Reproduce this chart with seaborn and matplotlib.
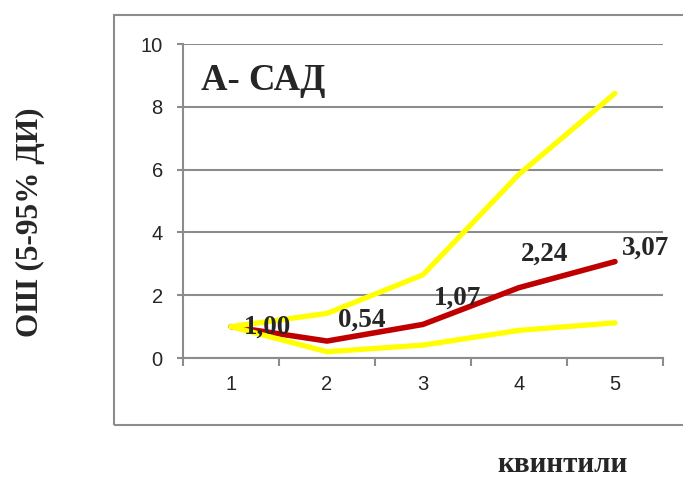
import matplotlib
matplotlib.use("Agg")
import matplotlib.pyplot as plt
from matplotlib.patches import Rectangle
from matplotlib.ticker import FixedLocator
import seaborn as sns
import pandas as pd

# Quintiles and odds ratios with 5-95% interval bounds
quintiles = [1, 2, 3, 4, 5]
odds_ratio = [1.00, 0.54, 1.07, 2.24, 3.07]
ci_upper = [1.00, 1.42, 2.65, 5.85, 8.43]
ci_lower = [1.00, 0.20, 0.41, 0.88, 1.12]
value_labels = ["1,00", "0,54", "1,07", "2,24", "3,07"]

# label offsets in pixels (dx, dy)
label_offsets = [(37, -1), (35, 21), (34, 26), (26, 33), (31, 13)]

df = pd.DataFrame({
    "q": quintiles * 3,
    "val": odds_ratio + ci_upper + ci_lower,
    "series": ["or"] * 5 + ["up"] * 5 + ["lo"] * 5,
})

sns.set_style("white")
plt.rcParams["font.family"] = ["Liberation Serif", "DejaVu Serif"]

W, H = 683, 479
fig = plt.figure(figsize=(W / 100, H / 100), dpi=100)
ax = fig.add_axes([183 / W, 1 - 358 / H, 480 / W, 314 / H])

grid_col = "#8c8c8c"

# outer chart frame
fig.patches.append(Rectangle((114 / W, 1 - 425 / H), 600 / W, 410 / H,
                             transform=fig.transFigure, fill=False,
                             edgecolor=grid_col, linewidth=1.5, zorder=0))

sns.lineplot(data=df[df.series == "or"], x="q", y="val", color="#C00000",
             linewidth=4.0, ax=ax, zorder=3, solid_capstyle="round")
for s in ["up", "lo"]:
    sns.lineplot(data=df[df.series == s], x="q", y="val", color="#FFFF00",
                 linewidth=3.8, ax=ax, zorder=4, solid_capstyle="round")

ax.set_xlim(0.5, 5.5)
ax.set_ylim(0, 10)
ax.set_yticks([0, 2, 4, 6, 8, 10])
ax.set_xticks(quintiles)
ax.xaxis.set_minor_locator(FixedLocator([0.5, 1.5, 2.5, 3.5, 4.5, 5.5]))
ax.grid(axis="y", color=grid_col, linewidth=1.5, zorder=0)
ax.set_axisbelow(True)

for side in ["top", "right"]:
    ax.spines[side].set_visible(False)
for side in ["left", "bottom"]:
    ax.spines[side].set_color(grid_col)
    ax.spines[side].set_linewidth(1.5)

tick_font = {"family": ["Liberation Sans", "DejaVu Sans"], "size": 14.5}
ax.set_xticklabels([str(q) for q in quintiles], fontdict=tick_font)
ax.set_yticklabels(["0", "2", "4", "6", "8", "10"], fontdict=tick_font)
ax.tick_params(axis="x", which="major", length=0, pad=12)
ax.tick_params(axis="x", which="minor", length=6, width=1.5, color=grid_col, direction="out", bottom=True)
ax.tick_params(axis="y", length=4.5, width=1.5, color=grid_col, direction="out", left=True, pad=10)

ax.set_xlabel("")
ax.set_ylabel("")

# data labels
for q, v, lab, (dx, dy) in zip(quintiles, odds_ratio, value_labels, label_offsets):
    ax.annotate(lab, (q, v), xytext=(dx * 0.72, dy * 0.72), textcoords="offset points",
                ha="center", va="center", fontsize=19.5, fontweight="bold", zorder=6)

ax.text(201 / W, 1 - 81 / H, "А- САД", transform=fig.transFigure, ha="left", va="center",
        fontsize=26.5, fontweight="bold")

fig.text(30 / W, 1 - 222 / H, "ОШ (5-95% ДИ)", rotation=90, ha="center", va="center",
         fontsize=22.5, fontweight="bold")
fig.text(563 / W, 1 - 472 / H, "квинтили", ha="center", va="baseline",
         fontsize=21, fontweight="bold")

fig.savefig("out.png", dpi=100)
